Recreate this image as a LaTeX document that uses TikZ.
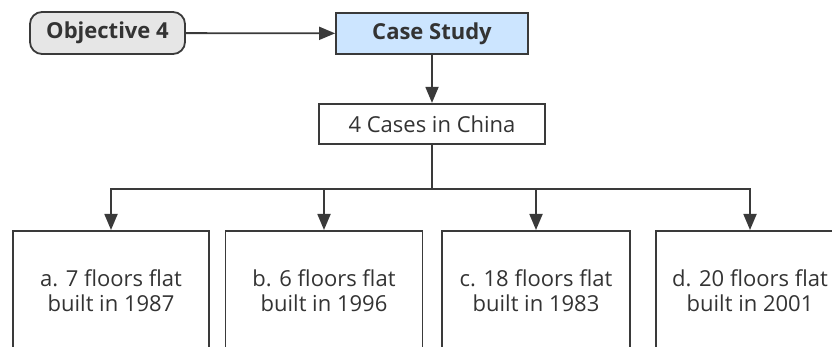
\documentclass[tikz,border=0pt]{standalone}
\usepackage{fontspec}
\setmainfont{Open Sans}
\usetikzlibrary{positioning}
\usetikzlibrary{arrows.meta}
\usetikzlibrary{calc}
\definecolor{linegray}{HTML}{3A3A3A}
\definecolor{textgray}{HTML}{333333}
\definecolor{objfill}{HTML}{E6E6E6}
\definecolor{studyfill}{HTML}{CCE5FF}

\begin{document}
\begin{tikzpicture}[x=1pt, y=-1pt, line width=1.8pt, draw=linegray,
arr/.style ={-{Triangle[length=16pt,width=13pt]}},
box/.style ={rectangle, draw=linegray, text=textgray, inner sep=0pt, align=center, font=\fontsize{22}{25}\selectfont},
objbox/.style ={box, rounded corners=12pt, fill=objfill, font=\fontsize{22}{25}\selectfont\bfseries, minimum width=155pt, minimum height=42pt},
studybox/.style ={box, fill=studyfill, font=\fontsize{22}{25}\selectfont\bfseries, minimum width=192pt, minimum height=41pt},
flatbox/.style ={box, anchor=north, minimum height=120pt}]
\useasboundingbox (0,0) rectangle (832,347);
\clip (0,0) rectangle (832,347);
\node[objbox] (obj) at (107.5,33) {Objective 4};
\node[studybox] (study) at (432,33.5) {Case Study};
\node[box, minimum width=226pt, minimum height=40pt] (cases) [below =48pt of study] {4 Cases in China};
\node[flatbox, minimum width=196pt] (fa) at (111,230) {a. 7 floors flat\\built in 1987};
\node[flatbox, minimum width=197pt] (fb) at (324,230) {b. 6 floors flat\\built in 1996};
\node[flatbox, minimum width=188pt] (fc) at (536,230) {c. 18 floors flat\\built in 1983};
\node[flatbox, minimum width=188pt] (fd) at (750,230) {d. 20 floors flat\\built in 2001};
\coordinate (fork) at ($(cases.south)+(0,44)$);
\draw[arr] (obj) -- (study);
\draw[arr] (study) -- (study |- cases.north);
\draw (cases.south) -- (fork);
\foreach \f in {fa,fb,fc,fd}
  \draw[arr] (fork) -| (\f.north);
\end{tikzpicture}
\end{document}
